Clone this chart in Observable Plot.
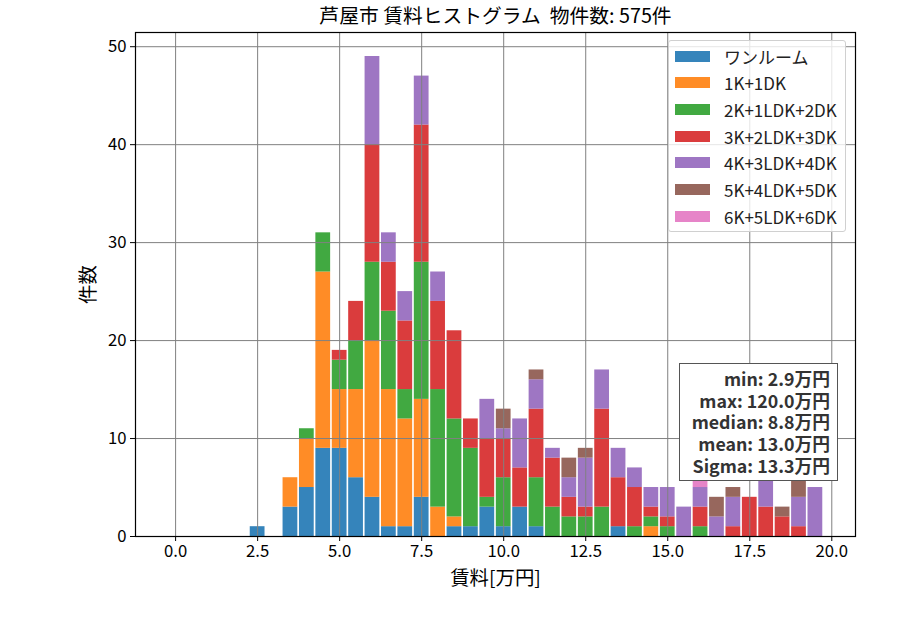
<!DOCTYPE html>
<html>
<head>
<meta charset="utf-8">
<script src="https://cdn.jsdelivr.net/npm/d3@7"></script>
<script src="https://cdn.jsdelivr.net/npm/@observablehq/plot@0.6"></script>
<style>
  body { margin: 0; background: white; }
  #wrap { position: relative; width: 900px; height: 630px; font-family: "Noto Sans CJK JP", sans-serif; }
  #legend { position: absolute; left: 668px; top: 40px; width: 178px; height: 192px; border: 1px solid #d0d0d0; border-radius: 3px; background: rgba(255,255,255,0.8); box-sizing: border-box; }
  .li { position: absolute; left: 6px; height: 20px; display: flex; align-items: center; font-size: 17px; color: #222; white-space: nowrap; }
  .sw { width: 35px; height: 11px; margin-right: 14px; opacity: 0.9; }
  #stats { position: absolute; left: 679px; top: 363px; width: 159px; height: 118px; border: 1px solid #555; background: white; box-sizing: border-box; }
  .sl { position: absolute; right: 7px; height: 21.6px; line-height: 21.6px; overflow: visible; white-space: nowrap; text-align: right; font-weight: bold; font-size: 17.8px; color: #333; }
</style>
</head>
<body>
<div id="wrap"></div>
<script>
const types = ["ワンルーム", "1K+1DK", "2K+1LDK+2DK", "3K+2LDK+3DK", "4K+3LDK+4DK", "5K+4LDK+5DK", "6K+5LDK+6DK"];
const colors = ["#1f77b4", "#ff7f0e", "#2ca02c", "#d62728", "#9467bd", "#8c564b", "#e377c2"];
const bins = [0, 0.5, 1, 1.5, 2, 2.5, 3, 3.5, 4, 4.5, 5, 5.5, 6, 6.5, 7, 7.5, 8, 8.5, 9, 9.5,
              10, 10.5, 11, 11.5, 12, 12.5, 13, 13.5, 14, 14.5, 15, 15.5, 16, 16.5, 17, 17.5, 18, 18.5, 19, 19.5];
const oneRoom = [0,0,0,0,0,1,0,3,5,9, 9,6,4,1,1,4,0,1,1,3, 1,3,1,0,0,0,0,1,0,0, 0,0,0,0,0,0,0,0,0,0];
const k1      = [0,0,0,0,0,0,0,3,5,18, 6,9,16,14,11,10,3,1,0,0, 0,0,0,0,0,0,0,0,0,1, 0,0,0,0,0,0,0,0,0,0];
const k2      = [0,0,0,0,0,0,0,0,1,4, 3,5,8,8,3,14,12,10,8,1, 5,0,5,3,2,2,3,0,1,1, 1,0,1,0,0,0,0,0,0,0];
const k3      = [0,0,0,0,0,0,0,0,0,0, 1,4,12,5,7,14,9,9,3,6, 4,4,7,5,2,1,10,5,4,1, 1,0,2,0,1,4,3,2,1,0];
const k4      = [0,0,0,0,0,0,0,0,0,0, 0,0,9,3,3,5,3,0,0,4, 1,5,3,1,2,5,4,3,2,2, 3,3,2,2,3,0,3,0,3,5];
const k5      = [0,0,0,0,0,0,0,0,0,0, 0,0,0,0,0,0,0,0,0,0, 2,0,1,0,2,1,0,0,0,0, 0,0,0,2,1,0,0,1,2,0];
const k6      = [0,0,0,0,0,0,0,0,0,0, 0,0,0,0,0,0,0,0,0,0, 0,0,0,0,0,0,0,0,0,0, 0,0,1,0,0,0,0,0,0,0];
const series = [oneRoom, k1, k2, k3, k4, k5, k6];
const xTicks = [0, 2.5, 5, 7.5, 10, 12.5, 15, 17.5, 20];
const yTicks = [0, 10, 20, 30, 40, 50];
const title = "芦屋市 賃料ヒストグラム  物件数: 575件";
const xLabel = "賃料[万円]";
const yLabel = "件数";
const statLabels = ["min", "max", "median", "mean", "Sigma"];
const statValues = ["2.9", "120.0", "8.8", "13.0", "13.3"];

const rows = [];
types.forEach((t, i) => series[i].forEach((v, j) => { if (v > 0) rows.push({x: bins[j], type: t, count: v}); }));

const halfWidth = 0.225;
const chart = Plot.plot({
  width: 900,
  height: 630,
  marginLeft: 135,
  marginRight: 45,
  marginTop: 32,
  marginBottom: 94,
  style: {fontFamily: '"Noto Sans CJK JP", sans-serif', fontSize: "16.7px", background: "white", color: "black"},
  x: {domain: [-1.2225, 20.7225], label: null},
  y: {domain: [0, 51.45], label: null},
  color: {domain: types, range: colors},
  marks: [
    Plot.rectY(rows, {x1: d => d.x - halfWidth, x2: d => d.x + halfWidth, y: "count", fill: "type", fillOpacity: 0.9}),
    Plot.gridX(xTicks, {stroke: "#808080", strokeOpacity: 1, strokeWidth: 1}),
    Plot.gridY(yTicks, {stroke: "#808080", strokeOpacity: 1, strokeWidth: 1}),
    Plot.axisX(xTicks, {tickFormat: d3.format(".1f"), tickSize: 5, tickPadding: 4, label: null, fontSize: 16.7}),
    Plot.axisY(yTicks, {tickFormat: d3.format("d"), tickSize: 5, tickPadding: 4, label: null, fontSize: 16.7}),
    Plot.frame({stroke: "black", strokeWidth: 1.2}),
    Plot.text([title], {text: d => d, frameAnchor: "top", lineAnchor: "middle", dy: -16, fontSize: 19.8}),
    Plot.text([xLabel], {text: d => d, frameAnchor: "bottom", lineAnchor: "middle", dy: 42, fontSize: 19.4}),
    Plot.text([yLabel], {text: d => d, frameAnchor: "left", textAnchor: "middle", lineAnchor: "middle", dx: -47, rotate: -90, fontSize: 19.4})
  ]
});

const wrap = document.getElementById("wrap");
wrap.appendChild(chart);

const legend = document.createElement("div");
legend.id = "legend";
types.forEach((t, i) => {
  const item = document.createElement("div");
  item.className = "li";
  item.style.top = (5 + i * 26.7) + "px";
  const sw = document.createElement("div");
  sw.className = "sw";
  sw.style.background = colors[i];
  const lab = document.createElement("span");
  lab.textContent = t;
  item.appendChild(sw);
  item.appendChild(lab);
  legend.appendChild(item);
});
wrap.appendChild(legend);

const stats = document.createElement("div");
stats.id = "stats";
statLabels.forEach((l, i) => {
  const line = document.createElement("div");
  line.className = "sl";
  line.style.top = (4 + i * 21.7) + "px";
  line.textContent = `${l}: ${statValues[i]}万円`;
  stats.appendChild(line);
});
wrap.appendChild(stats);
</script>
</body>
</html>
